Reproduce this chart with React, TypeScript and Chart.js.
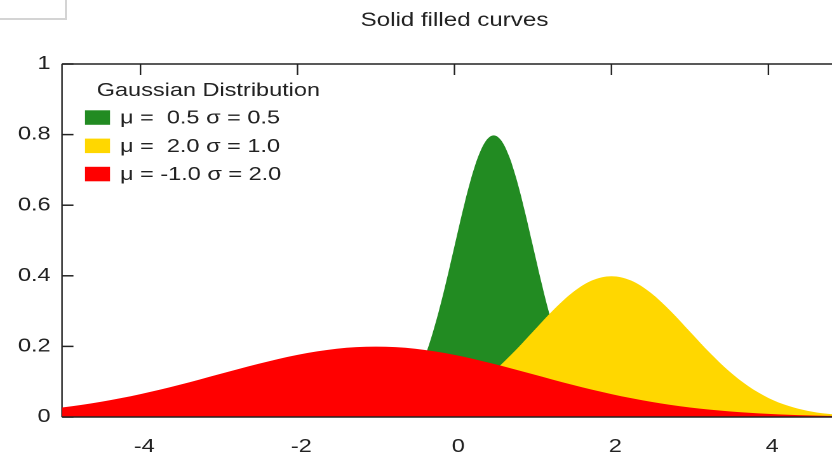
import { useEffect, useRef } from 'react';
import { Chart, registerables } from 'chart.js';

Chart.register(...registerables);

// ---------- data ----------
const chartTitle = 'Solid filled curves';
const legendTitle = 'Gaussian Distribution';
const seriesLabels = ['μ =  0.5 σ = 0.5', 'μ =  2.0 σ = 1.0', 'μ = -1.0 σ = 2.0'];
const seriesColors = ['#228B22', '#FFD700', '#FF0000'];

const xTicks = [-4, -2, 0, 2, 4];
const xTickLabels = ['-4', '-2', '0', '2', '4'];
const yTicks = [0, 0.2, 0.4, 0.6, 0.8, 1];
const yTickLabels = ['0', '0.2', '0.4', '0.6', '0.8', '1'];
const xMin = -5;
const xMax = 4.81;

const greenX = [-5, -1.5, -1.4, -1.3, -1.2, -1.1, -1.0, -0.9, -0.8, -0.7, -0.6, -0.5, -0.4, -0.3, -0.2, -0.1, 0, 0.1, 0.2, 0.3, 0.4, 0.5, 0.6, 0.7, 0.8, 0.9, 1.0, 1.1, 1.2, 1.3, 1.4, 1.5, 1.6, 1.7, 1.8, 1.9, 2.0, 2.1, 2.2, 2.3, 2.4, 2.5, 5];
const greenY = [0, 0.0003, 0.0006, 0.0012, 0.0025, 0.0048, 0.0089, 0.0158, 0.0272, 0.0448, 0.0710, 0.1080, 0.1579, 0.2218, 0.2995, 0.3884, 0.4839, 0.5794, 0.6665, 0.7365, 0.7821, 0.7979, 0.7821, 0.7365, 0.6665, 0.5794, 0.4839, 0.3884, 0.2995, 0.2218, 0.1579, 0.1080, 0.0710, 0.0448, 0.0272, 0.0158, 0.0089, 0.0048, 0.0025, 0.0012, 0.0006, 0.0003, 0];

const yellowX = [-5, -2, -1.75, -1.5, -1.25, -1, -0.75, -0.5, -0.25, 0, 0.25, 0.5, 0.75, 1, 1.25, 1.5, 1.75, 2, 2.25, 2.5, 2.75, 3, 3.25, 3.5, 3.75, 4, 4.25, 4.5, 4.75, 5];
const yellowY = [0, 0.0001, 0.0004, 0.0009, 0.0020, 0.0044, 0.0091, 0.0175, 0.0317, 0.0540, 0.0863, 0.1295, 0.1826, 0.2420, 0.3011, 0.3521, 0.3867, 0.3989, 0.3867, 0.3521, 0.3011, 0.2420, 0.1826, 0.1295, 0.0863, 0.0540, 0.0317, 0.0175, 0.0091, 0.0044];

const redX = [-5, -4.75, -4.5, -4.25, -4, -3.75, -3.5, -3.25, -3, -2.75, -2.5, -2.25, -2, -1.75, -1.5, -1.25, -1, -0.75, -0.5, -0.25, 0, 0.25, 0.5, 0.75, 1, 1.25, 1.5, 1.75, 2, 2.25, 2.5, 2.75, 3, 3.25, 3.5, 3.75, 4, 4.25, 4.5, 4.75, 5];
const redY = [0.0270, 0.0344, 0.0431, 0.0533, 0.0648, 0.0775, 0.0913, 0.1059, 0.1210, 0.1360, 0.1506, 0.1641, 0.1760, 0.1859, 0.1933, 0.1979, 0.1995, 0.1979, 0.1933, 0.1859, 0.1760, 0.1641, 0.1506, 0.1360, 0.1210, 0.1059, 0.0913, 0.0775, 0.0648, 0.0533, 0.0431, 0.0344, 0.0270, 0.0209, 0.0159, 0.0119, 0.0088, 0.0064, 0.0045, 0.0032, 0.0022];

// ---------- layout ----------
const W_REAL = 832;
const H = 459;
const W = 655; // internal canvas width, stretched horizontally to 832
const S = W_REAL / W;
const FONT = '"Liberation Sans", Arial, Helvetica, sans-serif';
const INK = '#222222';

const toPoints = (xs: number[], ys: number[]) => xs.map((x, i) => ({ x, y: ys[i] }));

const decor = {
  id: 'decor',
  beforeDatasetsDraw(chart: any) {
    const { ctx, chartArea, scales } = chart;
    const { left, right, top } = chartArea;
    ctx.save();
    ctx.strokeStyle = INK;
    ctx.lineWidth = 1.2;
    ctx.beginPath();
    ctx.moveTo(left, top);
    ctx.lineTo(left, chartArea.bottom);
    ctx.stroke();
    ctx.lineWidth = 1.5;
    ctx.beginPath();
    ctx.moveTo(left, top);
    ctx.lineTo(right, top);
    ctx.stroke();
    ctx.lineWidth = 1.5;
    yTicks.forEach((v) => {
      const py = scales.y.getPixelForValue(v);
      ctx.beginPath();
      ctx.moveTo(left, py);
      ctx.lineTo(left + 9, py);
      ctx.stroke();
    });
    ctx.lineWidth = 1.2;
    xTicks.forEach((v) => {
      const px = scales.x.getPixelForValue(v);
      ctx.beginPath();
      ctx.moveTo(px, top);
      ctx.lineTo(px, top + 11);
      ctx.stroke();
    });
    ctx.restore();
  },
  afterDatasetsDraw(chart: any) {
    const { ctx, chartArea } = chart;
    ctx.save();
    ctx.strokeStyle = INK;
    ctx.lineWidth = 1.5;
    ctx.beginPath();
    ctx.moveTo(chartArea.left, chartArea.bottom);
    ctx.lineTo(chartArea.right, chartArea.bottom);
    ctx.stroke();
    ctx.restore();
  },
  afterDraw(chart: any) {
    const { ctx, scales } = chart;
    ctx.save();
    ctx.fillStyle = INK;
    ctx.textBaseline = 'middle';
    ctx.font = `19px ${FONT}`;
    ctx.textAlign = 'center';
    ctx.fillText(chartTitle, scales.x.getPixelForValue(0), 21);
    ctx.font = `18.5px ${FONT}`;
    ctx.textAlign = 'left';
    ctx.fillText(legendTitle, 96.7 / S, 91);
    const rows = [117.5, 145.8, 174];
    chart.data.datasets.forEach((ds: any, i: number) => {
      const cy = rows[i];
      ctx.fillStyle = ds.backgroundColor;
      ctx.fillRect(85 / S, cy - 7.2, 25 / S, 14.5);
      ctx.fillStyle = INK;
      ctx.fillText(ds.label, 120 / S, cy + 1);
    });
    ctx.restore();
  },
};

export default function App() {
  const ref = useRef<HTMLCanvasElement | null>(null);

  useEffect(() => {
    document.body.style.margin = '0';
    const canvas = ref.current;
    if (!canvas) return;
    const series = [
      { xs: greenX, ys: greenY, order: 2 },
      { xs: yellowX, ys: yellowY, order: 1 },
      { xs: redX, ys: redY, order: 0 },
    ];
    const chart = new Chart(canvas, {
      type: 'line',
      data: {
        datasets: series.map((s, i) => ({
          label: seriesLabels[i],
          data: toPoints(s.xs, s.ys),
          order: s.order,
          backgroundColor: seriesColors[i],
          borderColor: seriesColors[i],
          borderWidth: 0,
          pointRadius: 0,
          fill: 'origin',
          cubicInterpolationMode: 'monotone',
        })),
      },
      options: {
        responsive: false,
        animation: false,
        devicePixelRatio: 2,
        events: [],
        layout: { padding: { top: 64, right: 0, left: 0, bottom: 0 } },
        plugins: {
          legend: { display: false },
          title: { display: false },
          tooltip: { enabled: false },
        },
        scales: {
          x: {
            type: 'linear',
            min: xMin,
            max: xMax,
            grid: { display: false, drawTicks: false },
            border: { display: false },
            afterBuildTicks: (scale: any) => {
              scale.ticks = xTicks.map((v) => ({ value: v }));
            },
            afterFit: (scale: any) => {
              scale.height = H - 417;
            },
            ticks: {
              autoSkip: false,
              maxRotation: 0,
              padding: 19,
              labelOffset: 3,
              color: INK,
              font: { family: FONT, size: 18.5 },
              callback: (v: any) => xTickLabels[xTicks.indexOf(Number(v))],
            },
          },
          y: {
            type: 'linear',
            min: 0,
            max: 1,
            grid: { display: false, drawTicks: false },
            border: { display: false },
            afterBuildTicks: (scale: any) => {
              scale.ticks = yTicks.map((v) => ({ value: v }));
            },
            afterFit: (scale: any) => {
              scale.width = 62 / S;
            },
            ticks: {
              autoSkip: false,
              padding: 9,
              color: INK,
              font: { family: FONT, size: 18.5 },
              callback: (v: any) => yTickLabels[yTicks.indexOf(Number(v))],
            },
          },
        },
      },
      plugins: [decor],
    } as any);
    return () => chart.destroy();
  }, []);

  return (
    <div style={{ position: 'relative', width: W_REAL, height: H, overflow: 'hidden', background: '#ffffff' }}>
      <div
        style={{
          position: 'absolute',
          left: 0,
          top: 0,
          width: W,
          height: H,
          transform: `scaleX(${S})`,
          transformOrigin: '0 0',
        }}
      >
        <canvas ref={ref} width={W} height={H} style={{ width: `${W}px`, height: `${H}px`, display: 'block' }} />
      </div>
      <div
        style={{
          position: 'absolute',
          left: 0,
          top: 0,
          width: 65,
          height: 18,
          borderRight: '2px solid #d4d4d4',
          borderBottom: '2px solid #d4d4d4',
        }}
      />
    </div>
  );
}
